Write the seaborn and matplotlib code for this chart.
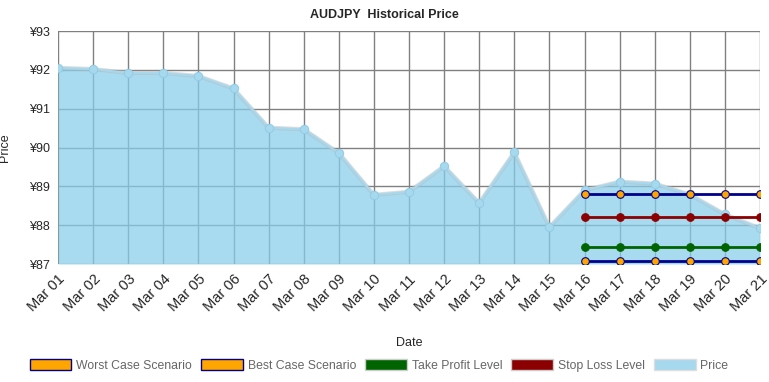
import matplotlib
matplotlib.use("Agg")
import matplotlib.pyplot as plt
import seaborn as sns
import pandas as pd
from matplotlib.patches import Patch
from matplotlib.ticker import FuncFormatter

dates = [f"Mar {d:02d}" for d in range(1, 22)]
price = [92.05, 92.02, 91.92, 91.92, 91.84, 91.52, 90.51, 90.47, 89.86, 88.78,
         88.86, 89.52, 88.57, 89.88, 87.95, 88.90, 89.12, 89.07, 88.79, 88.28, 87.92]
forecast_dates = dates[15:]
best_case = [88.79] * 6
worst_case = [87.08] * 6
take_profit = [87.44] * 6
stop_loss = [88.20] * 6

sns.set_style("white")
plt.rcParams["font.family"] = ["Liberation Sans", "DejaVu Sans"]

df = pd.DataFrame({"x": range(len(dates)), "price": price})
fx = list(range(15, 21))

fig = plt.figure(figsize=(7.69, 3.82), dpi=100)
ax = fig.add_axes([58 / 769, 1 - 264 / 382, 702 / 769, 233 / 382])

ax.fill_between(df["x"], df["price"], 87, color="#87ceeb", alpha=0.72, linewidth=0, zorder=2)
sns.lineplot(x=df["x"], y=df["price"], ax=ax, color="#bbbbbb", linewidth=3, alpha=0.5, zorder=3)
sns.lineplot(x=df["x"], y=df["price"], ax=ax, color="#a6d8ee", linewidth=1.5,
             marker="o", markersize=6, markeredgecolor="#92cde6", zorder=4)

sns.lineplot(x=fx, y=stop_loss, ax=ax, color="#8b0000", linewidth=2, marker="o",
             markersize=5.5, markerfacecolor="#8b0000", markeredgecolor="#8b0000", zorder=5)
sns.lineplot(x=fx, y=take_profit, ax=ax, color="#006400", linewidth=2, marker="o",
             markersize=5.5, markerfacecolor="#006400", markeredgecolor="#006400", zorder=5)
for vals in (best_case, worst_case):
    sns.lineplot(x=fx, y=vals, ax=ax, color="#00008b", linewidth=2, marker="o",
                 markersize=5.5, markerfacecolor="#ffa500", markeredgecolor="#00008b",
                 markeredgewidth=0.8, zorder=6)

ax.set_xlim(0, 20)
ax.set_ylim(87, 93)
ax.set_xticks(range(len(dates)))
ax.set_xticklabels(dates, rotation=45, ha="right", rotation_mode="anchor", fontsize=10.5)
ax.set_yticks(range(87, 94))
ax.yaxis.set_major_formatter(FuncFormatter(lambda v, _: f"¥{v:.0f}"))
ax.tick_params(axis="y", labelsize=9, length=4, color="#666666", pad=2)
ax.tick_params(axis="x", length=4, color="#666666", pad=2)
ax.grid(True, color="#808080", linewidth=1, zorder=1)
ax.set_axisbelow(True)
for s in ax.spines.values():
    s.set_visible(False)

fig.text(0.5, 1 - 15 / 382, "AUDJPY  Historical Price", fontsize=9, fontweight="bold",
         ha="center", va="center")
ax.set_xlabel("Date", fontsize=9, labelpad=16)
ax.set_ylabel("Price", fontsize=9, labelpad=13)

handles = [
    Patch(facecolor="#ffa500", edgecolor="#00008b", label="Worst Case Scenario"),
    Patch(facecolor="#ffa500", edgecolor="#00008b", label="Best Case Scenario"),
    Patch(facecolor="#006400", edgecolor="#cccccc", label="Take Profit Level"),
    Patch(facecolor="#8b0000", edgecolor="#cccccc", label="Stop Loss Level"),
    Patch(facecolor="#a6d8ee", edgecolor="#dddddd", label="Price"),
]
leg = fig.legend(handles=handles, loc="center", bbox_to_anchor=(0.493, 0.044), ncol=5,
                 frameon=False, fontsize=8.8, handlelength=3.4, handleheight=1.1,
                 columnspacing=0.75, handletextpad=0.4)
for t in leg.get_texts():
    t.set_color("#666666")

fig.savefig("out.png", dpi=100)
